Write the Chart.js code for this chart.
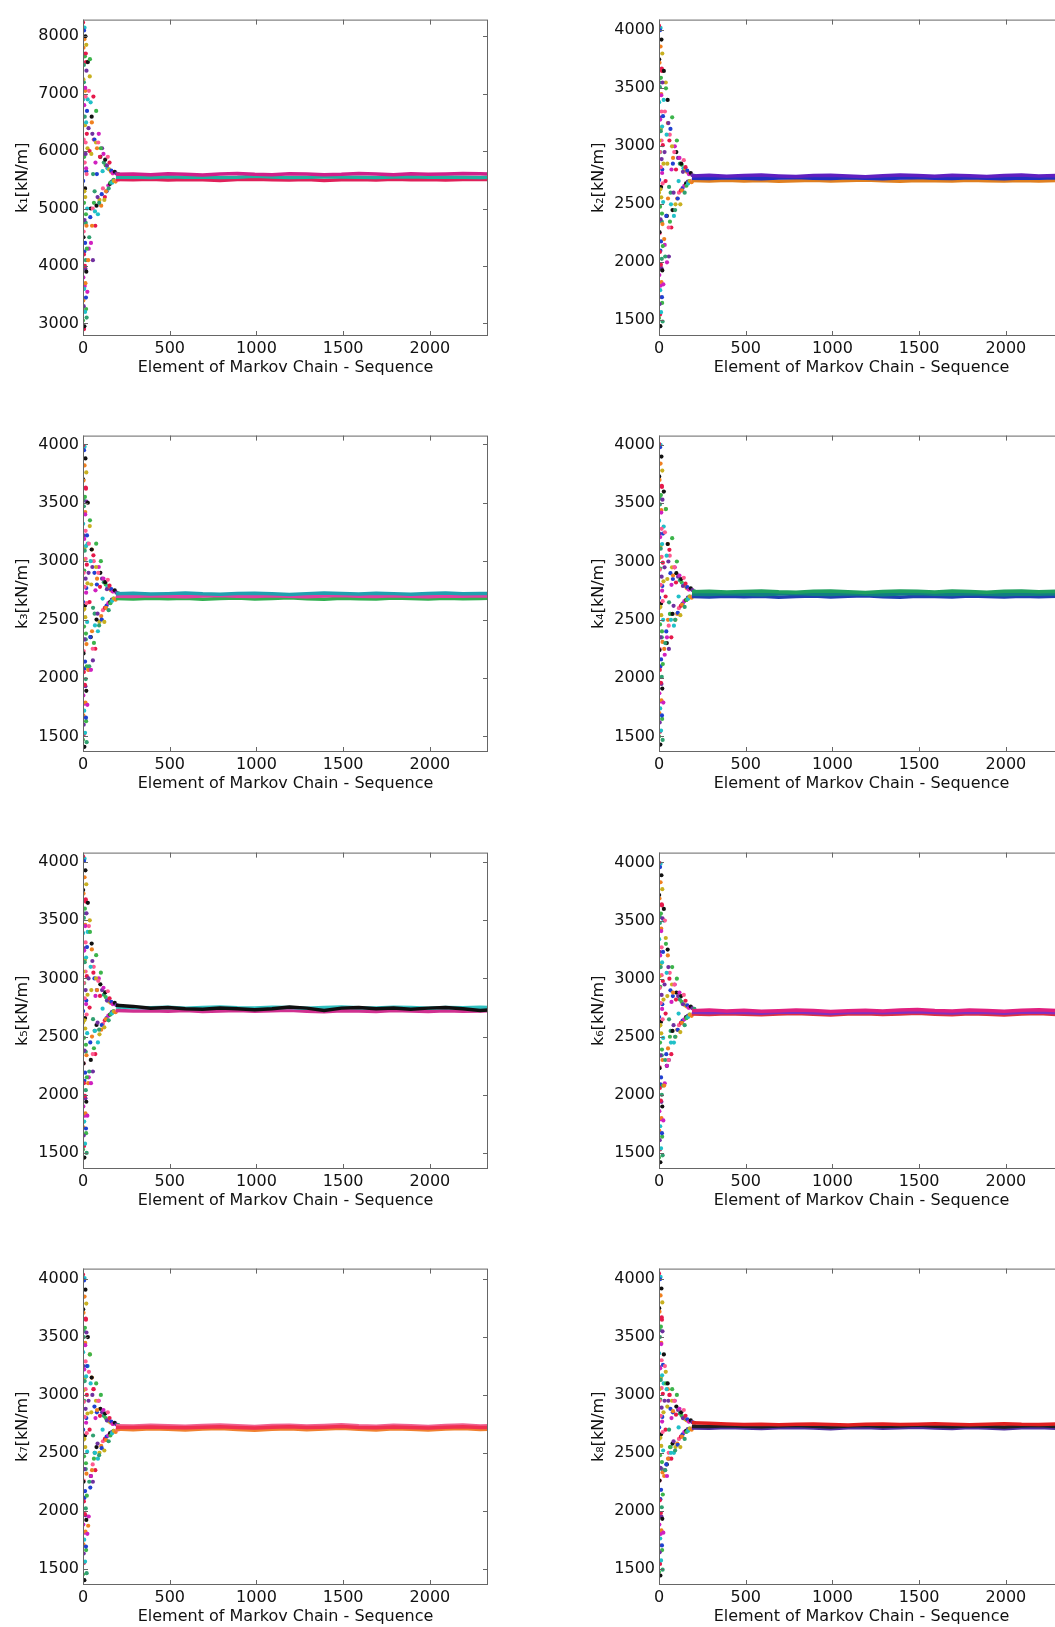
<!DOCTYPE html>
<html>
<head>
<meta charset="utf-8">
<script src="https://cdn.jsdelivr.net/npm/chart.js@4"></script>
<style>
  body { margin: 0; background: #fff; }
  #wrap { position: relative; width: 1055px; height: 1627px; overflow: hidden; background: #fff; }
  #wrap canvas { position: absolute; }
</style>
</head>
<body>
<div id="wrap"></div>
<script>
// sample index of each burn-in point (shared by all panels)
const burnX = [0,0,1,1,2,2,3,3,4,4,5,5,6,6,7,7,8,8,9,9,10,10,11,11,12,12,13,13,14,14,15,15,16,16,17,17,18,18,19,19,20,20,21,21,22,22,23,24,25,26,
    28,30,32,34,36,38,40,42,44,46,48,50,52,54,56,58,60,63,66,69,72,75,78,81,84,
    88,93,98,103,108,113,118,123,128,133,138,143,148,153,158,
    163,168,173,178,183,188,193,198,204,210];
// a second group of burn-in samples from the other chains
const burnX2 = [0,1,2,3,4,5,6,7,8,9,10,11,12,13,14,15,16,17,18,19,
    27,33,39,45,51,57,62,67,71,76,80,86,91,95,100,105,110,115,120,126,
    131,136,141,146,151,156,161,166,171,176];
// sample index of the converged part of the chains
const bandX = [190,290,390,490,590,690,790,890,990,1090,1190,1290,1390,1490,1590,1690,1790,1890,1990,2090,2190,2290,2390];

const panelLabels = ['k\u2081[kN/m]', 'k\u2082[kN/m]', 'k\u2083[kN/m]', 'k\u2084[kN/m]',
    'k\u2085[kN/m]', 'k\u2086[kN/m]', 'k\u2087[kN/m]', 'k\u2088[kN/m]'];
const yMin = [2780, 1365, 1366, 1366, 1362, 1362, 1358, 1358];
const yMax = [8290, 4092, 4075, 4080, 4082, 4085, 4092, 4092];
const xMax = 2335;
const xTicks = [0, 500, 1000, 1500, 2000];
const k1Ticks = [3000, 4000, 5000, 6000, 7000, 8000];
const kTicks = [1500, 2000, 2500, 3000, 3500, 4000];
const xLabel = 'Element of Markov Chain - Sequence';

// burn-in values
const k1Burn = [8240,3050,5480,6900,3800,7250,4500,7800,3300,6200,7500,4200,5100,8100,3600,6800,5300,2950,7950,4800,5800,6600,4000,7650,4400,3200,7100,5200,8000,3700,5950,6950,4100,7700,4900,3450,6500,5700,7850,3900,4700,7400,5600,3100,6300,4300,6700,5000,3550,6050,
    7550,4100,6400,7050,4500,6000,7600,4850,6850,4400,5950,6600,4700,6300,5000,5600,6950,5100,6200,4950,5800,6150,5050,6050,5200,
    6150,5100,5900,6050,5250,5650,5950,5150,5850,5300,5750,5900,5350,5800,5450,
    5660,5450,5620,5480,5640,5470,5610,5500,5600,5510];
const k2Burn = [4040,1520,2710,3380,1890,3050,2260,3720,1640,2950,3510,2090,2480,4000,1760,3230,2630,1450,3860,2370,2820,3130,1980,3590,2180,1570,3440,2560,3920,1830,2890,3300,2030,3670,2420,1700,3170,2770,3800,1930,2330,3550,2680,1490,3010,2140,3260,2520,1810,2850,
    3650,2200,2950,3300,2050,2700,3500,2400,3100,2000,2850,3400,2550,3200,2300,2650,3050,2350,3150,2500,2800,3000,2450,2900,2600,
    2950,2450,2800,3050,2550,2700,2900,2500,2850,2620,2780,2880,2600,2820,2660,
    2790,2680,2760,2700,2770,2690,2750,2710,2745,2715];
const k3Burn = [3990,1470,2650,3320,1850,3010,2210,3690,1600,2900,3470,2050,2440,3950,1720,3190,2590,1410,3820,2330,2780,3090,1940,3550,2140,1530,3400,2520,3880,1790,2850,3260,1990,3630,2380,1660,3130,2730,3760,1890,2290,3510,2640,1450,2970,2100,3220,2480,1770,2810,
    3500,2070,2900,3150,2100,2650,3350,2350,3000,2070,2800,3100,2400,2950,2250,2600,3050,2300,2900,2450,2750,2950,2500,2850,2550,
    2900,2450,2780,3000,2500,2680,2850,2480,2820,2600,2760,2840,2580,2790,2640,
    2760,2660,2740,2680,2750,2670,2730,2690,2725,2695];
const k4Burn = [4010,1500,2690,3350,1870,3030,2240,3700,1620,2930,3490,2070,2460,3980,1740,3210,2610,1430,3840,2350,2800,3110,1960,3570,2160,1550,3420,2540,3900,1810,2870,3280,2010,3650,2400,1680,3150,2750,3780,1910,2310,3530,2660,1470,2990,2120,3240,2500,1790,2830,
    3600,2250,2950,3250,2300,2700,3450,2400,3050,2350,2850,3150,2500,3000,2450,2650,3100,2550,2900,2500,2800,2950,2550,2880,2620,
    2950,2500,2820,3000,2560,2700,2880,2540,2850,2630,2790,2860,2610,2810,2670,
    2780,2680,2760,2700,2770,2690,2755,2705,2745,2712];
const k5Burn = [4050,1530,2720,3390,1900,3060,2270,3730,1650,2960,3520,2100,2490,4010,1770,3240,2640,1460,3870,2380,2830,3140,1990,3600,2190,1580,3450,2570,3930,1840,2900,3310,2040,3680,2430,1710,3180,2780,3810,1940,2340,3560,2690,1500,3020,2150,3270,2530,1820,2860,
    3650,2100,3000,3450,2200,2750,3400,2450,3100,2100,2900,3300,2500,3150,2350,2650,3050,2400,3000,2550,2850,3000,2600,2900,2620,
    2980,2560,2850,3050,2600,2740,2920,2580,2880,2650,2810,2890,2640,2830,2690,
    2800,2700,2780,2715,2790,2710,2770,2725,2765,2730];
const k6Burn = [4000,1460,2670,3340,1860,3020,2230,3690,1610,2920,3480,2060,2450,3960,1730,3200,2600,1420,3830,2340,2790,3100,1950,3560,2150,1540,3410,2530,3890,1800,2860,3270,2000,3640,2390,1670,3140,2740,3770,1900,2300,3520,2650,1480,2980,2080,3230,2490,1780,2820,
    3600,2080,2950,3500,2300,2700,3300,2350,3050,2250,2850,3250,2400,3100,2300,2650,3000,2500,2900,2450,2800,2950,2550,2880,2600,
    2950,2500,2820,3000,2560,2700,2880,2540,2850,2620,2780,2860,2600,2810,2660,
    2770,2670,2750,2690,2760,2680,2745,2700,2740,2705];
const k7Burn = [4040,1450,2700,3370,1880,3040,2250,3710,1630,2940,3500,2080,2470,3990,1750,3220,2620,1400,3850,2360,2810,3120,1970,3580,2170,1560,3430,2550,3910,1820,2880,3290,2020,3660,2410,1690,3160,2760,3790,1920,2320,3540,2670,1460,3000,2130,3250,2510,1800,2840,
    3500,1870,2950,3200,2250,2700,3350,2200,3100,2300,2850,3150,2350,3000,2400,2650,3050,2450,2900,2500,2800,2950,2550,2870,2580,
    2950,2480,2820,3000,2540,2700,2870,2520,2840,2610,2780,2850,2600,2800,2650,
    2770,2670,2750,2690,2760,2680,2745,2700,2740,2705];
const k8Burn = [4050,1470,2720,3360,1880,3050,2260,3720,1640,2950,3500,2090,2480,4000,1760,3230,2630,1440,3860,2370,2820,3130,1980,3590,2180,1570,3440,2560,3920,1830,2890,3300,2030,3670,2420,1700,3170,2770,3800,1930,2330,3550,2680,1490,3010,2140,3260,2520,1810,2850,
    3350,2300,2950,3250,2350,2700,3100,2400,3050,2300,2900,3100,2450,2950,2500,2700,3000,2550,2880,2500,2800,2950,2580,2860,2600,
    2950,2520,2830,3000,2570,2720,2880,2550,2850,2640,2800,2870,2620,2820,2680,
    2790,2690,2770,2710,2780,2700,2765,2720,2760,2725];

// values of the second burn-in group
const k1Burn2 = [5100,7700,3400,6600,4600,7200,2900,5900,4250,8150,3650,6450,5350,7050,3950,6150,4750,7550,3250,5650,
    6900,4300,7300,5000,6500,4100,6200,5300,4700,6700,5600,4900,6300,5150,5900,5050,6050,5350,5800,5200,
    5750,5300,5700,5400,5680,5430,5640,5470,5610,5500];
const k2Burn2 = [2600,3750,1700,3250,2250,3550,1550,2950,2100,4020,1800,3150,2650,3450,1950,3050,2350,3650,1650,2800,
    3400,2150,3550,2400,3200,2050,3100,2600,2300,3250,2850,2400,3000,2500,2950,2550,2900,2600,2850,2620,
    2840,2640,2810,2660,2800,2680,2780,2695,2770,2700];
const k3Burn2 = [2580,3700,1680,3220,2230,3520,1520,2920,2080,3980,1780,3120,2620,3420,1930,3020,2330,3620,1630,2770,
    3150,2070,3300,2350,3100,2150,3000,2550,2250,3150,2800,2400,2950,2480,2900,2530,2850,2580,2820,2600,
    2800,2620,2780,2640,2770,2650,2750,2670,2740,2680];
const k4Burn2 = [2600,3730,1700,3240,2250,3540,1540,2940,2100,4000,1800,3140,2640,3440,1950,3040,2350,3640,1650,2790,
    3300,2200,3450,2300,3150,2250,3050,2550,2350,3200,2850,2450,2950,2500,2900,2550,2870,2600,2840,2620,
    2820,2640,2800,2660,2790,2670,2770,2690,2760,2700];
const k5Burn2 = [2620,3760,1720,3260,2270,3560,1560,2960,2120,4030,1820,3160,2660,3460,1970,3060,2370,3660,1670,2810,
    3400,2150,3500,2300,3250,2200,3100,2550,2350,3200,2900,2450,3000,2520,2950,2560,2900,2610,2860,2640,
    2840,2660,2820,2680,2800,2690,2790,2710,2780,2720];
const k6Burn2 = [2590,3720,1690,3230,2240,3530,1530,2930,2090,3990,1790,3130,2630,3430,1940,3030,2340,3630,1640,2780,
    3500,2100,3350,2250,3200,2300,3050,2550,2350,3100,2850,2450,2950,2500,2880,2560,2850,2600,2820,2620,
    2800,2640,2780,2650,2770,2670,2760,2680,2750,2690];
const k7Burn2 = [2610,3740,1710,3250,2260,3550,1550,2950,2110,4010,1810,3150,2650,3450,1960,3050,2360,3650,1660,2800,
    3250,1950,3350,2300,3150,2250,3050,2500,2350,3100,2850,2450,2950,2500,2880,2560,2850,2600,2820,2620,
    2800,2640,2780,2650,2770,2670,2760,2680,2750,2690];
const k8Burn2 = [2620,3750,1700,3240,2260,3560,1540,2960,2100,4020,1800,3150,2660,3450,1950,3060,2360,3650,1660,2810,
    3100,2350,3200,2400,3050,2450,3000,2550,2450,3050,2850,2500,2950,2550,2900,2580,2870,2620,2840,2640,
    2820,2660,2800,2680,2790,2690,2780,2705,2770,2710];

// converged chains, three per panel
const k1Band = [
    [5595,5600,5590,5605,5595,5585,5600,5610,5595,5590,5605,5600,5590,5595,5610,5600,5590,5605,5595,5600,5610,5605,5600],
    [5545,5550,5540,5555,5545,5550,5540,5545,5560,5550,5540,5545,5555,5550,5545,5540,5550,5555,5545,5550,5545,5540,5550],
    [5505,5500,5510,5495,5505,5500,5490,5505,5510,5500,5495,5505,5490,5500,5505,5495,5510,5500,5505,5495,5505,5510,5500]];
const k2Band = [
    [2745,2750,2742,2748,2752,2745,2740,2748,2750,2744,2738,2746,2752,2748,2742,2750,2746,2740,2748,2752,2745,2748,2744],
    [2725,2722,2728,2725,2720,2726,2730,2724,2722,2728,2725,2720,2726,2730,2724,2722,2728,2725,2720,2726,2724,2728,2725],
    [2705,2700,2708,2702,2706,2698,2704,2708,2700,2705,2710,2702,2698,2706,2703,2700,2708,2704,2700,2706,2702,2705,2708]];
const k3Band = [
    [2720,2725,2718,2722,2728,2720,2716,2724,2726,2720,2714,2722,2728,2724,2718,2726,2722,2716,2724,2728,2720,2724,2720],
    [2700,2697,2703,2700,2695,2701,2705,2699,2697,2703,2700,2695,2701,2705,2699,2697,2703,2700,2695,2701,2699,2703,2700],
    [2680,2676,2683,2678,2682,2674,2680,2684,2676,2681,2686,2678,2674,2682,2679,2676,2684,2680,2676,2682,2678,2681,2684]];
const k4Band = [
    [2740,2745,2738,2742,2748,2740,2736,2744,2746,2740,2734,2742,2748,2744,2738,2746,2742,2736,2744,2748,2740,2744,2740],
    [2720,2717,2723,2720,2715,2721,2725,2719,2717,2723,2720,2715,2721,2725,2719,2717,2723,2720,2715,2721,2719,2723,2720],
    [2700,2696,2703,2698,2702,2694,2700,2704,2696,2701,2706,2698,2694,2702,2699,2696,2704,2700,2696,2702,2698,2701,2704]];
const k5Band = [
    [2770,2760,2745,2750,2740,2735,2745,2740,2730,2740,2755,2745,2725,2745,2750,2740,2745,2735,2745,2750,2740,2725,2735],
    [2755,2750,2748,2752,2745,2750,2754,2748,2746,2752,2750,2745,2750,2755,2748,2746,2752,2750,2744,2750,2748,2752,2750],
    [2725,2720,2722,2718,2724,2716,2720,2725,2718,2722,2726,2718,2714,2722,2720,2716,2724,2720,2716,2722,2718,2721,2724]];
const k6Band = [
    [2725,2730,2722,2728,2720,2724,2730,2726,2718,2724,2728,2722,2730,2734,2726,2722,2730,2726,2720,2728,2732,2726,2722],
    [2710,2706,2712,2708,2702,2710,2714,2706,2700,2708,2712,2706,2710,2716,2708,2704,2712,2708,2702,2710,2714,2706,2708],
    [2695,2692,2698,2694,2690,2696,2700,2694,2688,2696,2699,2692,2696,2702,2694,2690,2698,2694,2688,2696,2700,2692,2696]];
const k7Band = [
    [2720,2718,2724,2720,2716,2722,2726,2720,2714,2722,2726,2718,2722,2728,2720,2716,2724,2720,2714,2722,2726,2718,2722],
    [2705,2700,2708,2704,2698,2706,2710,2702,2696,2704,2708,2700,2706,2712,2704,2698,2708,2704,2698,2706,2710,2702,2706],
    [2735,2732,2738,2734,2730,2736,2740,2734,2728,2736,2739,2732,2736,2742,2734,2730,2738,2734,2728,2736,2740,2732,2736]];
const k8Band = [
    [2760,2755,2750,2745,2748,2742,2746,2750,2744,2740,2746,2750,2744,2748,2752,2746,2742,2748,2752,2746,2744,2750,2748],
    [2730,2728,2734,2730,2725,2732,2736,2730,2724,2732,2736,2728,2732,2738,2730,2726,2734,2730,2724,2732,2736,2728,2732],
    [2715,2712,2718,2714,2710,2716,2720,2714,2708,2716,2719,2712,2716,2722,2714,2710,2718,2714,2708,2716,2720,2712,2716]];

const burns = [k1Burn, k2Burn, k3Burn, k4Burn, k5Burn, k6Burn, k7Burn, k8Burn];
const burns2 = [k1Burn2, k2Burn2, k3Burn2, k4Burn2, k5Burn2, k6Burn2, k7Burn2, k8Burn2];
const bands = [k1Band, k2Band, k3Band, k4Band, k5Band, k6Band, k7Band, k8Band];

// chain colours
const palette = ['#e6194b', '#3cb44b', '#2040d0', '#20c0c8', '#d020c0', '#c8b020', '#111111', '#f08020', '#7030a0', '#ff5a90', '#30a070'];
const bandColors = [
    ['#d0208a', '#20b0a0', '#e0205a'],
    ['#6020c0', '#2030c0', '#e08020'],
    ['#20a0b0', '#e040a0', '#30b050'],
    ['#20a060', '#108080', '#2040b0'],
    ['#101010', '#30c0c0', '#d03090'],
    ['#e02080', '#8030c0', '#e03040'],
    ['#f03050', '#f08030', '#f06090'],
    ['#e02020', '#202020', '#5030a0']];

const rowTops = [12, 428, 845, 1261];
const colLefts = [83, 659];
const plotW = 405, plotH = 324, axisW = 83, axisH = 50, padT = 6, padR = 6;

Chart.defaults.font.family = 'DejaVu Sans';
Chart.defaults.font.size = 16;
Chart.defaults.color = '#111';

// MATLAB style box with inward ticks on all sides
const boxPlugin = {
    id: 'box',
    afterDatasetsDraw(chart) {
        const { ctx, chartArea: a, scales: { x, y } } = chart;
        ctx.save();
        ctx.strokeStyle = '#666';
        ctx.lineWidth = 1;
        ctx.strokeRect(a.left + 0.5, a.top + 0.5, a.right - a.left - 1, a.bottom - a.top - 1);
        ctx.beginPath();
        x.ticks.forEach(t => {
            const px = Math.round(x.getPixelForValue(t.value)) + 0.5;
            ctx.moveTo(px, a.bottom); ctx.lineTo(px, a.bottom - 5);
            ctx.moveTo(px, a.top); ctx.lineTo(px, a.top + 5);
        });
        y.ticks.forEach(t => {
            const py = Math.round(y.getPixelForValue(t.value)) + 0.5;
            ctx.moveTo(a.left, py); ctx.lineTo(a.left + 5, py);
            ctx.moveTo(a.right, py); ctx.lineTo(a.right - 5, py);
        });
        ctx.stroke();
        ctx.restore();
    }
};

const wrap = document.getElementById('wrap');
for (let i = 0; i < 8; i++) {
    const row = Math.floor(i / 2), col = i % 2;
    const yTicks = i === 0 ? k1Ticks : kTicks;
    const canvas = document.createElement('canvas');
    canvas.width = axisW + plotW + padR;
    canvas.height = padT + plotH + axisH;
    canvas.style.left = (colLefts[col] - axisW) + 'px';
    canvas.style.top = (rowTops[row] - padT) + 'px';
    wrap.appendChild(canvas);

    const datasets = [];
    bands[i].forEach((vals, c) => {
        datasets.push({
            type: 'line',
            data: bandX.map((x, j) => ({ x: x, y: vals[j] })),
            borderColor: bandColors[i][c],
            borderWidth: 3.5,
            pointRadius: 0,
            tension: 0
        });
    });
    datasets.push({
        type: 'scatter',
        data: burnX.map((x, j) => ({ x: x, y: burns[i][j] })),
        backgroundColor: burnX.map((x, j) => palette[j % palette.length]),
        borderWidth: 0,
        pointRadius: 2.1
    });
    datasets.push({
        type: 'scatter',
        data: burnX2.map((x, j) => ({ x: x, y: burns2[i][j] })),
        backgroundColor: burnX2.map((x, j) => palette[(j + 5) % palette.length]),
        borderWidth: 0,
        pointRadius: 2.1
    });

    new Chart(canvas, {
        type: 'scatter',
        data: { datasets: datasets },
        options: {
            responsive: false,
            animation: false,
            devicePixelRatio: 1,
            layout: { padding: { top: padT, right: padR, left: 0, bottom: 0 } },
            plugins: { legend: { display: false }, tooltip: { enabled: false } },
            scales: {
                x: {
                    type: 'linear',
                    min: 0,
                    max: xMax,
                    afterFit(s) { s.height = axisH; },
                    afterBuildTicks(s) { s.ticks = xTicks.map(v => ({ value: v })); },
                    grid: { display: false, drawTicks: false },
                    border: { display: false },
                    ticks: { padding: 3, color: '#111', font: { family: 'DejaVu Sans', size: 16 }, maxRotation: 0, autoSkip: false, callback: v => String(v) },
                    title: { display: true, text: xLabel, color: '#111', font: { family: 'DejaVu Sans', size: 16 }, padding: { top: 0, bottom: 9 } }
                },
                y: {
                    type: 'linear',
                    min: yMin[i],
                    max: yMax[i],
                    afterFit(s) { s.width = axisW; },
                    afterBuildTicks(s) { s.ticks = yTicks.map(v => ({ value: v })); },
                    grid: { display: false, drawTicks: false },
                    border: { display: false },
                    ticks: { padding: 4, color: '#111', font: { family: 'DejaVu Sans', size: 16 }, autoSkip: false, callback: v => String(v) },
                    title: { display: true, text: panelLabels[i], color: '#111', font: { family: 'DejaVu Sans', size: 16 }, padding: { top: 13, bottom: 0 } }
                }
            }
        },
        plugins: [boxPlugin]
    });
}
</script>
</body>
</html>
